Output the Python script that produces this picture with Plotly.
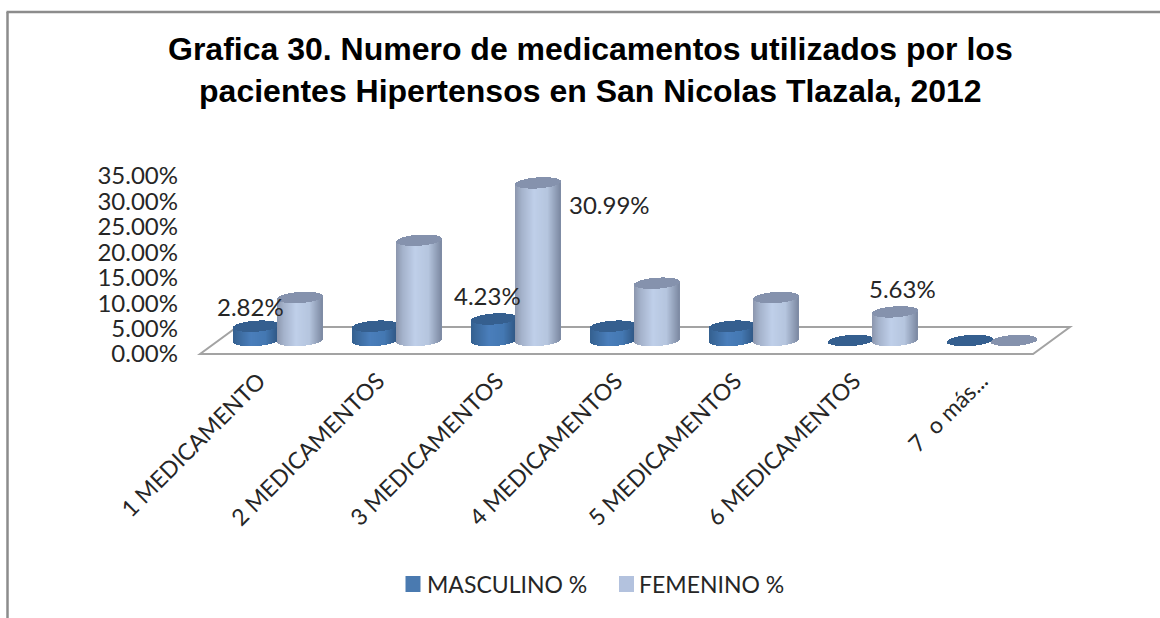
import math
import plotly.graph_objects as go

TITLE = "Grafica 30. Numero de medicamentos utilizados por los<br>pacientes Hipertensos en San Nicolas Tlazala, 2012"
categories = ["1 MEDICAMENTO", "2 MEDICAMENTOS", "3 MEDICAMENTOS", "4 MEDICAMENTOS",
              "5 MEDICAMENTOS", "6 MEDICAMENTOS", "7  o más..."]
masculino = [2.82, 2.82, 4.23, 2.82, 2.82, 0.0, 0.0]
femenino = [8.45, 19.72, 30.99, 11.27, 8.45, 5.63, 0.0]
y_ticks = [0, 5, 10, 15, 20, 25, 30, 35]
series_names = ["MASCULINO %", "FEMENINO %"]

W, H = 1160, 618
PX_CAT = 119.0          # pixels per category
X0_PX = 278.0           # pixel of the first category centre
Y0_PX = 354.0           # pixel of 0 %
PX_PCT = 5.086          # pixels per percent
FONT = "Lato, 'Open Sans', sans-serif"
TXT = "#262626"

def hex2rgb(c):
    return [int(c[i:i + 2], 16) for i in (1, 3, 5)]

def ramp(stops, t):
    for (t0, c0), (t1, c1) in zip(stops, stops[1:]):
        if t <= t1:
            f = (t - t0) / (t1 - t0)
            a, b = hex2rgb(c0), hex2rgb(c1)
            return "rgb(%d,%d,%d)" % tuple(round(a[k] + (b[k] - a[k]) * f) for k in range(3))
    return stops[-1][1]

MALE_STOPS = [(0, "#34608f"), (.4, "#4a7ebb"), (.72, "#4478b2"), (1, "#2f5683")]
FEM_STOPS = [(0, "#8b96ad"), (.15, "#a4b2cb"), (.42, "#bfcfe9"), (.72, "#b5c5de"), (1, "#7d8aa3")]

BASE = 13.5 / PX_PCT     # cylinders sit on the receding floor
CAP_H = 5.5 / PX_PCT
TILT = 1.5 / PX_PCT
HALF_W = 22.5            # px

def cylinder_traces(values, offset_px, stops, cap_color, name):
    xb, bb, hb, cb, xc, bc, hc = [], [], [], [], [], [], []
    n = int(HALF_W * 2)
    for i, v in enumerate(values):
        for k in range(n):
            u = -1 + (2 * k + 1) / n
            arc = CAP_H * math.sqrt(1 - u * u)
            mid = BASE + TILT * u
            x = i + (offset_px + u * HALF_W) / PX_CAT
            xb.append(x); bb.append(mid - arc); hb.append(v + arc)
            cb.append(ramp(stops, (u + 1) / 2))
            xc.append(x); bc.append(mid + v - arc); hc.append(2 * arc)
    sw = 1.4 / PX_CAT
    common = dict(width=sw, showlegend=False, hoverinfo="skip", orientation="v", name=name)
    return [
        go.Bar(x=xb, y=hb, base=bb, marker=dict(color=cb, line=dict(width=0)), **common),
        go.Bar(x=xc, y=hc, base=bc, marker=dict(color=cap_color, line=dict(width=0)), **common),
    ]

fig = go.Figure()
M_OFF, F_OFF = -22.0, 22.5
for t in cylinder_traces(masculino, M_OFF, MALE_STOPS, "#355f8f", series_names[0]):
    fig.add_trace(t)
for t in cylinder_traces(femenino, F_OFF, FEM_STOPS, "#8592ad", series_names[1]):
    fig.add_trace(t)

def lab(values, i, off, dx, dy):
    return dict(x=i + off / PX_CAT, y=BASE + values[i], text="%.2f%%" % values[i],
                xshift=dx, yshift=dy, showarrow=False, font=dict(family=FONT, size=24, color=TXT))

def legend_text(name, px):
    return dict(x=px / W, y=1 - 584 / H, xref="paper", yref="paper", xanchor="left", yanchor="middle",
                text=name, showarrow=False, xshift=0,
                font=dict(family=FONT, size=23, color=TXT))

annotations = [
    lab(masculino, 0, M_OFF, -6, 20),
    lab(masculino, 2, M_OFF, -7, 23),
    lab(femenino, 2, F_OFF, 71, -22),
    lab(femenino, 5, F_OFF, 7, 23),
    dict(x=590 / W, y=1 - 70 / H, xref="paper", yref="paper", xanchor="center", yanchor="middle",
         text="<b>" + TITLE.replace("<br>", "</b><br><b>") + "</b>", showarrow=False,
         font=dict(family="'Liberation Sans', Arial, sans-serif", size=32, color="#000000"),
         align="center"),
    legend_text(series_names[0], 425),
    legend_text(series_names[1], 637),
]

floor_x = [-0.655, 6.345, 6.655, -0.345]
floor_y = [0, 0, 5.3, 5.3]
floor_path = "M %f %f L %f %f L %f %f L %f %f Z" % tuple(v for p in zip(floor_x, floor_y) for v in p)

def swatch(x0, color):
    return dict(type="rect", xref="paper", yref="paper", x0=x0 / W, x1=(x0 + 15) / W,
                y0=1 - 592 / H, y1=1 - 576 / H, fillcolor=color, line=dict(width=0))

shapes = [
    dict(type="path", path=floor_path, xref="x", yref="y", layer="below",
         line=dict(color="#a3a3a3", width=2)),
    dict(type="line", xref="paper", yref="paper", x0=7.5 / W, x1=7.5 / W, y0=0, y1=1 - 12 / H,
         line=dict(color="#8c8c8c", width=2.5)),
    dict(type="line", xref="paper", yref="paper", x0=6.5 / W, x1=1, y0=1 - 12 / H, y1=1 - 12 / H,
         line=dict(color="#8c8c8c", width=2.5)),
    swatch(405.5, "#4a7ab0"),
    swatch(619, "#b3c2de"),
]

tick_pos = [i - 0.16 for i in range(len(categories))]
tick_pos[-1] += 0.07

fig.update_layout(
    width=W, height=H, margin=dict(l=0, r=0, t=0, b=0),
    paper_bgcolor="white", plot_bgcolor="white",
    barmode="overlay", bargap=0, showlegend=False,
    annotations=annotations, shapes=shapes,
    font=dict(family=FONT, color=TXT),
    xaxis=dict(range=[-X0_PX / PX_CAT, (W - X0_PX) / PX_CAT], domain=[0, 1],
               anchor="free", position=1 - 362 / H,
               tickmode="array", tickvals=tick_pos,
               ticktext=categories, tickangle=-45, ticks="", showgrid=False,
               zeroline=False, showline=False, tickfont=dict(family=FONT, size=23, color=TXT)),
    yaxis=dict(range=[(Y0_PX - H) / PX_PCT, Y0_PX / PX_PCT], domain=[0, 1],
               anchor="free", position=178 / W,
               tickmode="array", tickvals=y_ticks, ticktext=["%.2f%%" % v for v in y_ticks],
               ticks="", showgrid=False, zeroline=False, showline=False,
               tickfont=dict(family=FONT, size=24, color=TXT)),
)

fig.write_html("out.html", post_script="document.body.style.margin='0';",
               config={"displayModeBar": False})
